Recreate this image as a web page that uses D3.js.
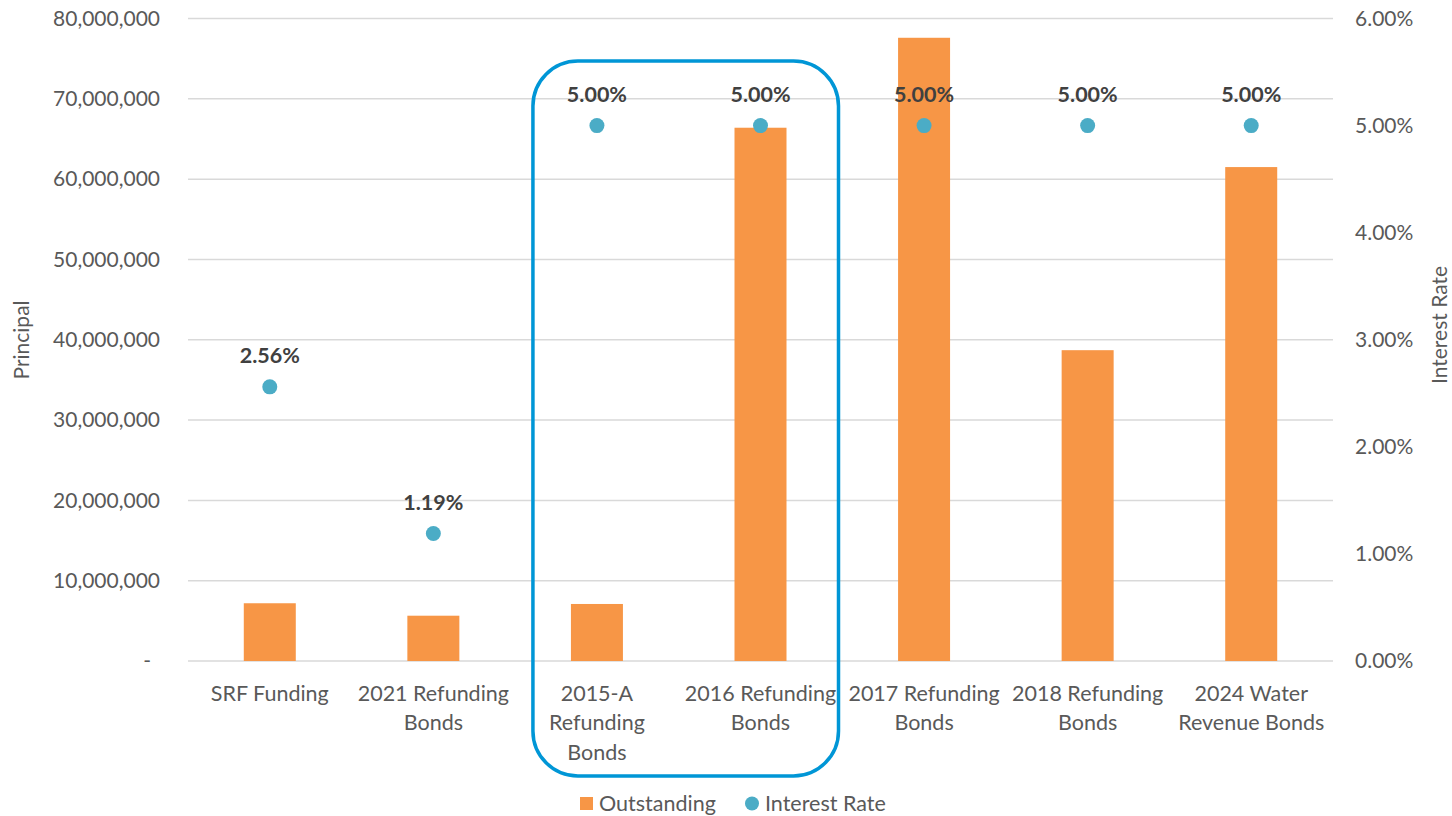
<!DOCTYPE html>
<html>
<head>
<meta charset="utf-8">
<script src="https://cdn.jsdelivr.net/npm/d3@7"></script>
<style>
  html, body { margin: 0; padding: 0; background: #fff; }
  svg { display: block; font-family: "Lato", "Open Sans", sans-serif; }
</style>
</head>
<body>
<svg id="chart" width="1452" height="816"></svg>
<script>
// Bond issues, outstanding principal and interest rate
const categories = [
  ["SRF Funding"],
  ["2021 Refunding", "Bonds"],
  ["2015-A", "Refunding", "Bonds"],
  ["2016 Refunding", "Bonds"],
  ["2017 Refunding", "Bonds"],
  ["2018 Refunding", "Bonds"],
  ["2024 Water", "Revenue Bonds"]
];
const outstanding = [7190000, 5640000, 7100000, 66400000, 77600000, 38700000, 61500000];
const interestRate = [0.0256, 0.0119, 0.05, 0.05, 0.05, 0.05, 0.05];
const principalTicks = [0, 10000000, 20000000, 30000000, 40000000, 50000000, 60000000, 70000000, 80000000];
const rateTicks = [0, 0.01, 0.02, 0.03, 0.04, 0.05, 0.06];
const seriesNames = ["Outstanding", "Interest Rate"];

const svg = d3.select("#chart");
const plotLeft = 188, plotRight = 1333, plotTop = 18.5, plotBottom = 661;
const barColor = "#F79646", dotColor = "#4BACC6", gridColor = "#D9D9D9", textColor = "#595959";
const fontSize = "21.5px";

const x = d3.scaleBand().domain(d3.range(categories.length)).range([plotLeft, plotRight]).paddingInner(0).paddingOuter(0);
const yL = d3.scaleLinear().domain([0, 80000000]).range([plotBottom, plotTop]);
const yR = d3.scaleLinear().domain([0, 0.06]).range([plotBottom, plotTop]);
const cx = i => x(i) + x.bandwidth() / 2;

// gridlines
svg.append("g").selectAll("line").data(principalTicks).join("line")
  .attr("x1", plotLeft).attr("x2", plotRight)
  .attr("y1", d => yL(d)).attr("y2", d => yL(d))
  .attr("stroke", gridColor).attr("stroke-width", 1.5);

// left axis
const fmtL = d => d === 0 ? "-" : d3.format(",")(d);
const leftAxis = svg.append("g").attr("transform", `translate(${plotLeft},0)`)
  .call(d3.axisLeft(yL).tickValues(principalTicks).tickFormat(fmtL).tickSize(0).tickPadding(28));
leftAxis.select(".domain").remove();
leftAxis.selectAll("text").attr("fill", textColor).style("font-size", "21px")
  .style("font-family", "Lato, sans-serif")
  .attr("dx", d => d === 0 ? -9 : 0);

// right axis
const rightAxis = svg.append("g").attr("transform", `translate(${plotRight},0)`)
  .call(d3.axisRight(yR).tickValues(rateTicks).tickFormat(d3.format(".2%")).tickSize(0).tickPadding(22));
rightAxis.select(".domain").remove();
rightAxis.selectAll("text").attr("fill", textColor).style("font-size", "21px")
  .style("font-family", "Lato, sans-serif");

// axis titles
svg.append("text").attr("transform", "translate(29,340) rotate(-90)")
  .attr("text-anchor", "middle").attr("fill", textColor).style("font-size", "21px").text("Principal");
svg.append("text").attr("transform", "translate(1447,325) rotate(-90)")
  .attr("text-anchor", "middle").attr("fill", textColor).style("font-size", "21px").text("Interest Rate");

// bars
const barW = 52;
svg.append("g").selectAll("rect").data(outstanding).join("rect")
  .attr("x", (d, i) => cx(i) - barW / 2)
  .attr("width", barW)
  .attr("y", d => yL(d))
  .attr("height", d => yL(0) - yL(d))
  .attr("fill", barColor);

// interest rate dots and labels
const dots = svg.append("g");
dots.selectAll("circle").data(interestRate).join("circle")
  .attr("cx", (d, i) => cx(i))
  .attr("cy", d => yR(d))
  .attr("r", 7.5)
  .attr("fill", dotColor);
dots.selectAll("text").data(interestRate).join("text")
  .attr("x", (d, i) => cx(i))
  .attr("y", d => yR(d) - 24)
  .attr("text-anchor", "middle")
  .attr("fill", "#404040")
  .style("font-size", fontSize).style("font-weight", "bold")
  .text(d => d3.format(".2%")(d));

// category labels
const catG = svg.append("g");
categories.forEach((lines, i) => {
  const t = catG.append("text")
    .attr("text-anchor", "middle")
    .attr("fill", textColor)
    .style("font-size", fontSize);
  lines.forEach((ln, j) => {
    t.append("tspan").attr("x", cx(i)).attr("y", 700.5 + j * 29.5).text(ln);
  });
});

// highlight box around the 2015-A and 2016 issues
const boxX0 = cx(2) - 64, boxX1 = cx(3) + 78;
svg.append("rect")
  .attr("x", boxX0)
  .attr("y", 61)
  .attr("width", boxX1 - boxX0)
  .attr("height", 715)
  .attr("rx", 45).attr("ry", 45)
  .attr("fill", "none")
  .attr("stroke", "#0096D6")
  .attr("stroke-width", 3.5);

// legend
const lg = svg.append("g");
lg.append("rect").attr("x", 580).attr("y", 797).attr("width", 13).attr("height", 13).attr("fill", barColor);
lg.append("text").attr("x", 599).attr("y", 811).attr("fill", textColor).style("font-size", fontSize).text(seriesNames[0]);
lg.append("circle").attr("cx", 752).attr("cy", 803.5).attr("r", 7).attr("fill", dotColor);
lg.append("text").attr("x", 765).attr("y", 811).attr("fill", textColor).style("font-size", fontSize).text(seriesNames[1]);
</script>
</body>
</html>
